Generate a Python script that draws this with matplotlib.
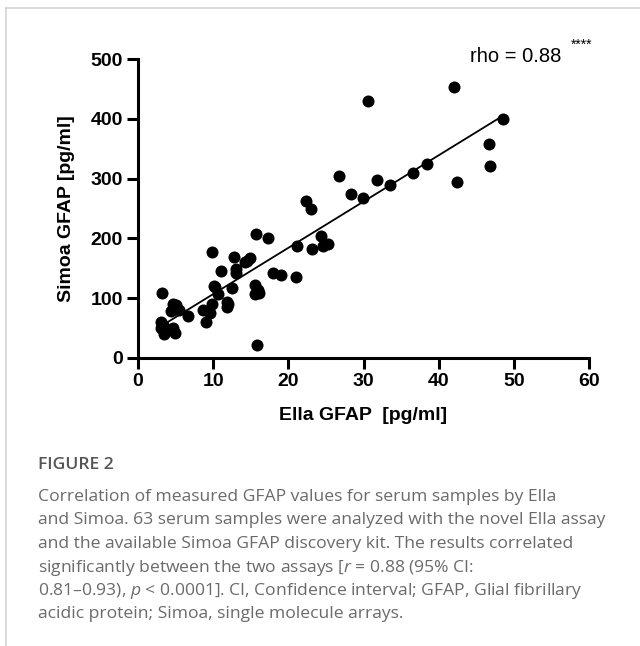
import numpy as np
import matplotlib
matplotlib.use('Agg')
import matplotlib.pyplot as plt
from matplotlib.lines import Line2D

# datos (Ella vs Simoa, pg/ml)
ella = [3.15, 4.6, 5.05, 4.35, 5.5, 3.0, 3.0, 3.45, 4.7, 4.9,
        6.7, 8.6, 9.6, 9.0, 9.9, 10.1, 10.6, 12.45, 11.9, 11.9,
        11.1, 13.1, 13.1, 15.6, 15.5, 16.1, 15.8, 17.9, 19.0, 21.0,
        9.8, 12.8, 14.2, 14.9, 15.7, 17.3, 21.1, 22.4, 23.0, 24.4,
        23.2, 24.6, 25.3, 26.7, 28.3, 29.9, 30.6, 42.1, 48.5, 46.7,
        46.8, 42.4, 38.4, 36.6, 33.5, 31.8,
        3.3, 5.0, 14.5, 12.0, 4.0, 16.0, 10.3]
simoa = [108, 90, 84, 79, 81, 61, 51, 40, 51, 42,
         70, 80, 75, 60, 90, 121, 107, 117, 94, 85,
         146, 148, 142, 122, 107, 109, 22, 142, 139, 135,
         177, 169, 161, 167, 207, 201, 188, 262, 250, 204,
         182, 187, 190, 304, 275, 268, 429, 454, 399, 358,
         321, 295, 324, 310, 290, 298,
         56, 88, 163, 90, 47, 113, 118]

x_ticks = [0, 10, 20, 30, 40, 50, 60]
y_ticks = [0, 100, 200, 300, 400, 500]

caption_lines = [
    "Correlation of measured GFAP values for serum samples by Ella",
    "and Simoa. 63 serum samples were analyzed with the novel Ella assay",
    "and the available Simoa GFAP discovery kit. The results correlated",
    "significantly between the two assays [$r$ = 0.88 (95% CI:",
    "0.81\u20130.93), $p$ < 0.0001]. CI, Confidence interval; GFAP, Glial fibrillary",
    "acidic protein; Simoa, single molecule arrays.",
]

plt.rcParams['font.family'] = ['Liberation Sans', 'DejaVu Sans']
plt.rcParams['mathtext.fontset'] = 'custom'
plt.rcParams['mathtext.it'] = 'Open Sans:italic'
plt.rcParams['mathtext.rm'] = 'Open Sans'

fig = plt.figure(figsize=(6.4, 6.46), dpi=100)
ax = fig.add_axes([138 / 640, 1 - 358 / 646, (589 - 138) / 640, (358 - 59) / 646])

ax.scatter(ella, simoa, s=75, color='black', zorder=3, linewidths=0)

# recta de regresion
m, b = np.polyfit(ella, simoa, 1)
xs = np.array([min(ella), max(ella)])
ax.plot(xs, m * xs + b, color='black', lw=1.3, zorder=2)

ax.set_xlim(0, 60)
ax.set_ylim(0, 500)
ax.set_xticks(x_ticks)
ax.set_yticks(y_ticks)
ax.spines['top'].set_visible(False)
ax.spines['right'].set_visible(False)
for s in ['left', 'bottom']:
    ax.spines[s].set_linewidth(2.2)
ax.tick_params(direction='out', length=8, width=2.2, labelsize=14, pad=3)
for lab in ax.get_xticklabels() + ax.get_yticklabels():
    lab.set_fontweight('bold')

ax.set_xlabel('Ella GFAP  [pg/ml]', fontsize=14, fontweight='bold', labelpad=12)
ax.set_ylabel('Simoa GFAP [pg/ml]', fontsize=14, fontweight='bold', labelpad=11)

ax.text(470 / 640, 1 - 57 / 646, 'rho = 0.88', transform=fig.transFigure,
        fontsize=14.5, va='center', ha='left')
ax.text(571 / 640, 1 - 45 / 646, '****', transform=fig.transFigure,
        fontsize=10, va='center', ha='left')

# marco gris de la tarjeta
fig.add_artist(Line2D([6 / 640, 1], [1 - 8 / 646, 1 - 8 / 646], color='#d4d4d4', lw=1.2))
fig.add_artist(Line2D([6 / 640, 6 / 640], [0, 1 - 8 / 646], color='#d4d4d4', lw=1.2))

# pie de figura
fig.text(38 / 640, 1 - 465 / 646, 'FIGURE 2', fontsize=12.6, color='#555555',
         family='Open Sans', fontweight='semibold', va='center')
for i, line in enumerate(caption_lines):
    fig.text(38 / 640, 1 - (497 + i * 23.5) / 646, line, fontsize=12.6, color='#6a6a6a',
             family='Open Sans', va='center')

fig.savefig('out.png', dpi=100)
